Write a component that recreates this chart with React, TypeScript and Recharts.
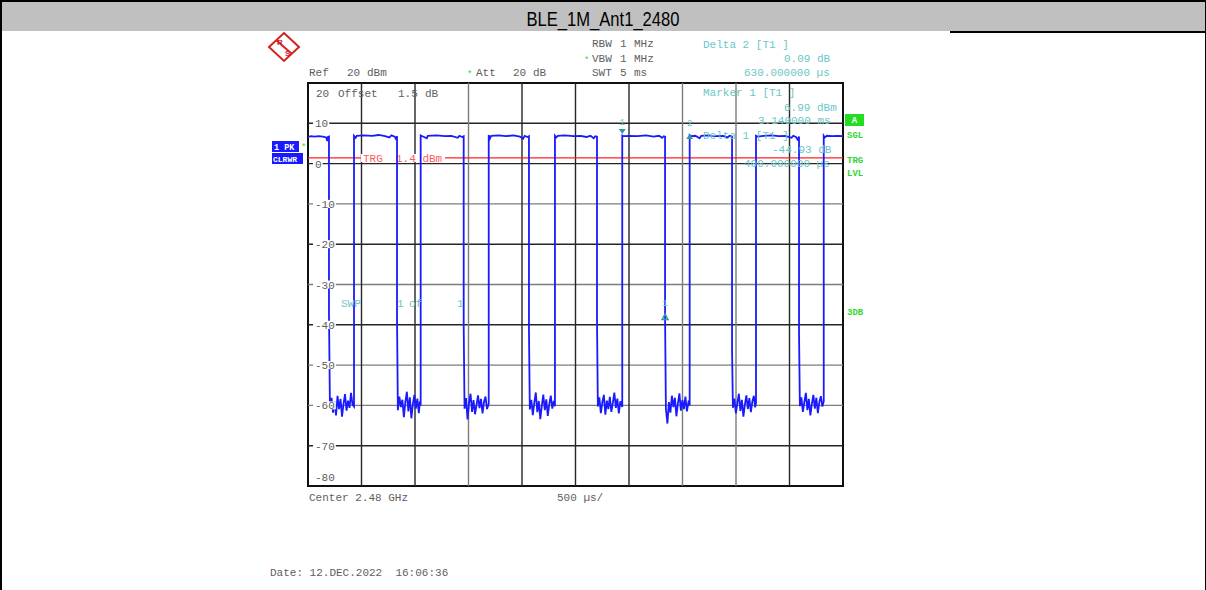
import React from "react";
import {
  LineChart,
  Line,
  XAxis,
  YAxis,
  ReferenceLine,
  ReferenceArea,
  ReferenceDot,
} from "recharts";

// sweep: 10 divisions x 500 us, level axis 20 .. -80 dBm
const sweepDomain: [number, number] = [0, 5000];
const levelDomain: [number, number] = [-80, 20];
const levelTicks = [20, 10, 0, -10, -20, -30, -40, -50, -60, -70, -80];
const levelGrid = [10, 0, -10, -20, -30, -40, -50, -60, -70];
const timeGrid = [500, 1000, 1500, 2000, 2500, 3000, 3500, 4000, 4500];
const triggerLevel = 1.4;

// markers
const marker1 = { t: 2937, dbm: 6.99 };
const marker2 = { t: 3567, dbm: 7.08 };
const delta1 = { t: 3337, dbm: -37.94 };

// zero-span trace: [time us, level dBm]
const traceSamples: [number, number][] = [
  // burst cut at left edge
  [0, 6.6], [30, 6.8], [60, 6.7], [100, 6.8], [140, 6.7], [170, 6.5], [180, 5.6], [186, 6.6], [196, 6.7],
  [196, -37.0],
  [205, -60.4], [220, -58.1], [234, -61.8], [248, -59.0], [262, -62.5], [276, -57.6], [290, -60.9], [304, -58.4],
  [318, -62.8], [332, -59.6], [346, -57.2], [360, -61.3], [374, -58.8], [388, -60.6], [402, -56.9], [416, -59.8],
  [430, -60.3],
  // burst 2
  [430, 6.9], [445, 6.4], [455, 6.9], [520, 7.0], [600, 6.9], [660, 7.1], [720, 6.8], [760, 6.5], [780, 7.0],
  [810, 6.7], [820, 6.2], [832, 6.8],
  [832, -38.5],
  [840, -61.2], [854, -57.8], [868, -60.4], [882, -58.6], [896, -62.9], [910, -59.2], [924, -56.6], [938, -61.5],
  [952, -58.0], [966, -63.2], [980, -59.7], [994, -57.4], [1008, -60.8], [1022, -58.3], [1036, -61.9], [1046, -59.0],
  [1053, -60.0],
  // burst 3
  [1053, 7.0], [1070, 6.8], [1110, 6.3], [1120, 6.9], [1200, 7.0], [1280, 6.8], [1340, 6.9], [1400, 6.4],
  [1415, 6.9], [1440, 6.6], [1455, 6.8],
  [1455, -40.0],
  [1463, -60.8], [1477, -58.2], [1491, -63.5], [1505, -59.4], [1519, -57.1], [1533, -61.6], [1547, -58.7],
  [1561, -62.2], [1575, -59.9], [1589, -57.5], [1603, -60.7], [1617, -58.4], [1631, -62.0], [1645, -59.1],
  [1659, -57.8], [1673, -60.9], [1689, -59.6],
  // burst 4
  [1689, 7.1], [1700, 6.2], [1712, 6.9], [1780, 7.0], [1850, 6.8], [1920, 7.0], [1980, 6.7], [2010, 6.2],
  [2025, 6.9], [2050, 6.6], [2065, 6.8],
  [2065, -41.0],
  [2073, -61.0], [2087, -58.6], [2101, -62.4], [2115, -59.3], [2129, -56.8], [2143, -61.7], [2157, -58.9],
  [2171, -63.4], [2185, -60.1], [2199, -57.3], [2213, -61.2], [2227, -58.5], [2241, -62.6], [2255, -59.7],
  [2269, -57.6], [2283, -60.8], [2297, -58.9], [2308, -60.2],
  // burst 5
  [2308, 6.9], [2320, 6.5], [2335, 6.9], [2400, 7.0], [2480, 6.8], [2550, 6.9], [2600, 6.6], [2640, 6.9],
  [2670, 6.3], [2685, 6.8], [2701, 6.7],
  [2701, -39.0],
  [2709, -60.3], [2723, -58.0], [2737, -61.9], [2751, -59.2], [2765, -57.4], [2779, -62.3], [2793, -58.8],
  [2807, -60.9], [2821, -57.9], [2835, -61.6], [2849, -59.4], [2863, -56.8], [2877, -60.6], [2891, -58.3],
  [2905, -62.0], [2919, -59.0], [2937, -60.4],
  // burst 6 (marker 1)
  [2937, 6.99], [2950, 6.8], [3000, 6.9], [3080, 6.8], [3160, 7.0], [3230, 6.7], [3280, 6.9], [3310, 6.4],
  [3325, 6.8], [3337, 6.7],
  [3337, -37.94],
  [3345, -60.9], [3359, -64.5], [3373, -59.2], [3387, -61.8], [3401, -57.6], [3415, -60.4], [3429, -58.1],
  [3443, -62.7], [3457, -59.5], [3471, -57.0], [3485, -61.3], [3499, -58.7], [3513, -60.9], [3527, -57.8],
  [3541, -61.5], [3555, -59.3], [3567, -60.0],
  // burst 7 (marker 2)
  [3567, 7.08], [3580, 6.8], [3620, 6.9], [3660, 6.3], [3675, 6.9], [3740, 7.0], [3810, 6.8], [3880, 6.9],
  [3920, 6.5], [3940, 6.9], [3963, 6.7],
  [3963, -46.0],
  [3971, -60.6], [3985, -58.3], [3999, -62.0], [4013, -59.4], [4027, -57.1], [4041, -61.4], [4055, -58.6],
  [4069, -62.8], [4083, -59.8], [4097, -57.5], [4111, -60.9], [4125, -58.2], [4139, -61.7], [4153, -59.0],
  [4167, -57.6], [4179, -60.5], [4187, -59.4],
  // burst 8
  [4187, 6.9], [4200, 6.7], [4260, 6.9], [4330, 7.0], [4400, 6.8], [4460, 6.9], [4520, 6.4], [4535, 6.9],
  [4560, 6.6], [4575, 6.0], [4589, 6.7],
  [4589, -42.0],
  [4597, -60.2], [4611, -58.0], [4625, -61.6], [4639, -59.1], [4653, -56.9], [4667, -61.2], [4681, -58.4],
  [4695, -62.5], [4709, -59.6], [4723, -57.4], [4737, -60.8], [4751, -58.1], [4765, -61.9], [4779, -59.2],
  [4793, -57.7], [4807, -60.3], [4820, -59.0],
  // burst 9 (cut at right edge)
  [4820, 6.9], [4830, 6.5], [4850, 6.9], [4900, 6.8], [4950, 6.9], [5000, 6.8],
];

const data = traceSamples.map(([t, v]) => ({ t, v }));

const MONO = "'Liberation Mono', 'DejaVu Sans Mono', monospace";
const GRAY = "#5e5e5e";
const TEAL = "#6cc6c6";
const TEAL_DARK = "#2f9c9c";
const GREEN = "#2fd52f";
const DARK_LINE = "#262626";
const LIGHT_LINE = "#7c7c7c";
const levelGridShade = [DARK_LINE, DARK_LINE, LIGHT_LINE, DARK_LINE, LIGHT_LINE, DARK_LINE, LIGHT_LINE, LIGHT_LINE, DARK_LINE];
const timeGridShade = [DARK_LINE, DARK_LINE, LIGHT_LINE, DARK_LINE, DARK_LINE, DARK_LINE, LIGHT_LINE, LIGHT_LINE, DARK_LINE];

function T({ x, y, children, fill = GRAY, size = 11, bold = false, anchor = "start" }: any) {
  return (
    <text
      x={x}
      y={y}
      fill={fill}
      fontSize={size}
      fontFamily={MONO}
      fontWeight={bold ? "bold" : "normal"}
      textAnchor={anchor}
      style={{ whiteSpace: "pre" }}
    >
      {children}
    </text>
  );
}

function LevelTick({ x, y, payload }: any) {
  const v = payload.value;
  const label = String(v);
  if (v === 20) return <T x={x + 8} y={y + 14}>{label}</T>;
  if (v === -80) return <T x={x + 7} y={y - 5}>{label}</T>;
  return (
    <g>
      <rect x={x + 5} y={y - 4} width={label.length * 6.6 + 3} height={8} fill="#fff" />
      <T x={x + 7} y={y + 4}>{label}</T>
    </g>
  );
}

function TriggerLabel({ viewBox }: any) {
  const { x, y } = viewBox;
  return (
    <g>
      <rect x={x + 53} y={y - 4} width={84} height={8} fill="#fff" />
      <T x={x + 55} y={y + 4} fill="#ff5a5a">TRG  1.4 dBm</T>
    </g>
  );
}

function Marker1Shape({ cx, cy }: any) {
  return (
    <g>
      <T x={cx} y={cy - 10} fill={TEAL} size={9} anchor="middle">1</T>
      <path d={`M${cx - 3.5},${cy - 6.5} L${cx + 3.5},${cy - 6.5} L${cx},${cy - 1.5} Z`} fill={TEAL_DARK} />
    </g>
  );
}

function Marker2Shape({ cx, cy }: any) {
  return (
    <g>
      <T x={cx} y={cy - 9} fill={TEAL} size={9} anchor="middle">2</T>
      <path d={`M${cx - 3.5},${cy + 4} L${cx + 3.5},${cy + 4} L${cx},${cy - 1} Z`} fill={TEAL_DARK} />
    </g>
  );
}

function DeltaShape({ cx, cy }: any) {
  return (
    <g>
      <T x={cx} y={cy - 10} fill={TEAL} size={9} anchor="middle">1</T>
      <path
        d={`M${cx - 3},${cy + 3} L${cx + 3},${cy + 3} L${cx},${cy - 2.5} Z`}
        fill="none"
        stroke={TEAL_DARK}
        strokeWidth={1.4}
      />
    </g>
  );
}

function Overlay() {
  return (
    <svg
      width={1206}
      height={590}
      style={{ position: "absolute", left: 0, top: 0, pointerEvents: "none" }}
    >
      {/* page frame and title bar */}
      <rect x={0} y={0} width={1206} height={31} fill="#c0c0c0" />
      <line x1={0} y1={1} x2={1206} y2={1} stroke="#000" strokeWidth={2} />
      <line x1={950} y1={32} x2={1206} y2={32} stroke="#000" strokeWidth={2} />
      <line x1={1} y1={0} x2={1} y2={590} stroke="#000" strokeWidth={2} />
      <line x1={1205.5} y1={0} x2={1205.5} y2={590} stroke="#000" strokeWidth={1} />
      <text
        x={603}
        y={26}
        fontSize={21}
        fontFamily="'Liberation Sans', Arial, sans-serif"
        textAnchor="middle"
        textLength={153}
        lengthAdjust="spacingAndGlyphs"
        fill="#000"
      >
        BLE_1M_Ant1_2480
      </text>

      {/* R&S logo */}
      <polygon points="284,33 299,47 284,61 269,47" fill="#fff" stroke="#d42222" strokeWidth={2} />
      <line x1={276} y1={40} x2={292} y2={54} stroke="#d42222" strokeWidth={2} />
      <text x={277} y={45} fontSize={8} fontWeight="bold" fill="#d42222" fontFamily="'Liberation Sans', sans-serif">R</text>
      <text x={285} y={56} fontSize={8} fontWeight="bold" fill="#d42222" fontFamily="'Liberation Sans', sans-serif">S</text>

      {/* instrument settings */}
      <T x={592} y={47}>RBW</T>
      <T x={620} y={47}>1</T>
      <T x={634} y={47}>MHz</T>
      <T x={584} y={63} fill={GREEN} size={9}>*</T>
      <T x={592} y={62}>VBW</T>
      <T x={620} y={62}>1</T>
      <T x={634} y={62}>MHz</T>
      <T x={592} y={76}>SWT</T>
      <T x={620} y={76}>5</T>
      <T x={634} y={76}>ms</T>
      <T x={309} y={76}>Ref</T>
      <T x={347} y={76}>20</T>
      <T x={367} y={76}>dBm</T>
      <T x={467} y={77} fill={GREEN} size={9}>*</T>
      <T x={476} y={76}>Att</T>
      <T x={513} y={76}>20</T>
      <T x={533} y={76}>dB</T>
      <T x={338} y={97}>Offset</T>
      <T x={398} y={97}>1.5</T>
      <T x={425} y={97}>dB</T>

      {/* marker readouts */}
      <T x={703} y={48} fill={TEAL}>Delta 2 [T1 ]</T>
      <T x={784} y={62} fill={TEAL}>0.09 dB</T>
      <T x={744} y={76} fill={TEAL}>630.000000 µs</T>
      <T x={703} y={96} fill={TEAL}>Marker 1 [T1 ]</T>
      <T x={784} y={111} fill={TEAL}>6.99 dBm</T>
      <T x={758} y={124} fill={TEAL}>3.140000 ms</T>
      <T x={703} y={139} fill={TEAL}>Delta 1 [T1 ]</T>
      <T x={772} y={153} fill={TEAL}>-44.93 dB</T>
      <T x={744} y={167} fill={TEAL}>400.000000 µs</T>
      <T x={341} y={307} fill={TEAL}>SWP</T>
      <T x={397} y={307} fill={TEAL}>1</T>
      <T x={409} y={307} fill={TEAL}>of</T>
      <T x={457} y={307} fill={TEAL}>1</T>

      {/* trace / status labels */}
      <rect x={272} y={141} width={27} height={11} fill="#1a1aff" />
      <T x={274} y={150} fill="#fff" size={8.5} bold>1 PK</T>
      <T x={301} y={150} fill={GREEN} size={9}>*</T>
      <rect x={272} y={153} width={31} height={11} fill="#1a1aff" />
      <T x={273} y={162} fill="#fff" size={8} bold>CLRWR</T>
      <rect x={845} y={114} width={19} height={12} fill="#22dd22" />
      <T x={854.5} y={123} fill="#fff" size={9} bold anchor="middle">A</T>
      <T x={847} y={138} fill={GREEN} size={9} bold>SGL</T>
      <T x={847} y={163} fill={GREEN} size={9} bold>TRG</T>
      <T x={847} y={176} fill={GREEN} size={9} bold>LVL</T>
      <T x={847} y={315} fill={GREEN} size={9} bold>3DB</T>

      {/* footer */}
      <T x={309} y={501}>Center 2.48 GHz</T>
      <T x={557} y={501}>500 µs/</T>
      <T x={270} y={576}>Date: 12.DEC.2022  16:06:36</T>
    </svg>
  );
}

export default function App() {
  return (
    <div
      style={{
        position: "absolute",
        left: 0,
        top: 0,
        width: 1206,
        height: 590,
        background: "#fff",
        overflow: "hidden",
      }}
    >
      <div style={{ position: "absolute", left: 0, top: 0 }}>
        <LineChart
          width={1206}
          height={590}
          data={data}
          margin={{ top: 83, right: 363, bottom: 104, left: 308 }}
        >
          <XAxis type="number" dataKey="t" domain={sweepDomain} allowDataOverflow hide />
          <YAxis
            type="number"
            domain={levelDomain}
            ticks={levelTicks}
            interval={0}
            allowDataOverflow
            mirror
            axisLine={false}
            tickLine={false}
            tickSize={0}
            tickMargin={0}
            tick={<LevelTick />}
          />
          {levelGrid.map((v, i) => (
            <ReferenceLine key={`h${v}`} y={v} stroke={levelGridShade[i]} strokeWidth={1.4} />
          ))}
          {timeGrid.map((t, i) => (
            <ReferenceLine key={`v${t}`} x={t} stroke={timeGridShade[i]} strokeWidth={1.4} />
          ))}
          <ReferenceLine
            y={triggerLevel}
            stroke="#ff2020"
            strokeWidth={1.2}
            label={<TriggerLabel />}
          />
          <Line
            type="linear"
            dataKey="v"
            stroke="#1a1aff"
            strokeWidth={1.8}
            dot={false}
            activeDot={false}
            isAnimationActive={false}
          />
          <ReferenceArea
            x1={sweepDomain[0]}
            x2={sweepDomain[1]}
            y1={levelDomain[0]}
            y2={levelDomain[1]}
            fill="none"
            stroke="#111"
            strokeWidth={2}
          />
          <ReferenceDot x={marker1.t} y={marker1.dbm} shape={<Marker1Shape />} />
          <ReferenceDot x={marker2.t} y={marker2.dbm} shape={<Marker2Shape />} />
          <ReferenceDot x={delta1.t} y={delta1.dbm} shape={<DeltaShape />} />
        </LineChart>
      </div>
      <Overlay />
    </div>
  );
}
